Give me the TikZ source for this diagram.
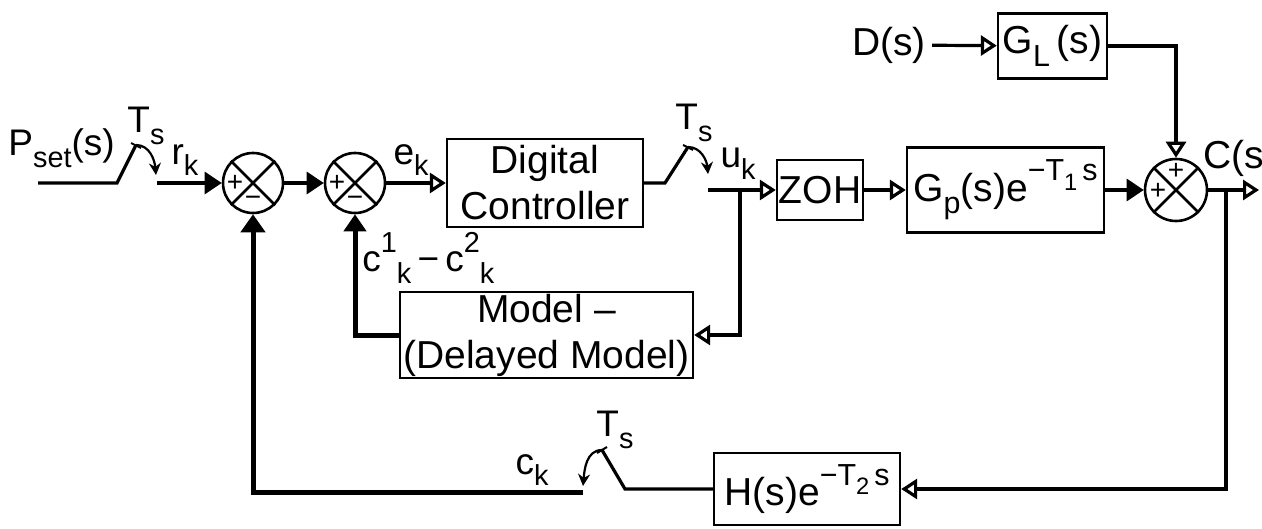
\documentclass[tikz,border=0pt]{standalone}
\usepackage{fontspec}
\setmainfont{Liberation Sans}
\usepackage{graphicx}
\usetikzlibrary{arrows.meta}
\newcommand\lo[1]{\raisebox{-0.6ex}{\scalebox{0.78}{#1}}}
\newcommand\hi[1]{\raisebox{1.0ex}{\scalebox{0.78}{#1}}}
\begin{document}
\begin{tikzpicture}[x=0.5pt,y=-0.5pt,
  box/.style={draw,line width=1.2pt,inner sep=0pt,align=center,font=\fontsize{19.5}{23}\selectfont},
  bigtxt/.style={inner sep=0pt,font=\fontsize{19.5}{23}\selectfont},
  sumnode/.style={draw,circle,line width=1.3pt,minimum size=30pt,inner sep=0pt},
  lbl/.style={inner sep=0pt,font=\fontsize{18.5}{21}\selectfont},
  sgn/.style={inner sep=0pt,font=\fontsize{14}{14}\selectfont},
  ln/.style={line width=1.6pt},
  thk/.style={line width=2.5pt},
  oarr/.style={-{Triangle[open,length=8pt,width=10pt]}},
  farr/.style={-{Triangle[length=8.5pt,width=11pt]}},
  swarr/.style={line width=1.1pt,-{Stealth[length=6pt,width=6pt]}},
  ]
\useasboundingbox (0,0) rectangle (1262,529);

% summing junctions
\node[sumnode] (sum1) at (253,183) {};
\node[sumnode] (sum2) at (355,183) {};
\node[sumnode,minimum size=31pt] (sum3) at (1176,190) {};
\foreach \s in {sum1,sum2,sum3}{
  \draw[line width=1.3pt] (\s.north west) -- (\s.south east) (\s.north east) -- (\s.south west);
}
\node[sgn] (p1) at (235,183) {+};
\node[sgn] (m1s) at (253,201) {−};
\node[sgn] (p2) at (337,183) {+};
\node[sgn] (m2s) at (355,201) {−};
\node[sgn] (p3a) at (1176,171) {+};
\node[sgn] (p3b) at (1158,191) {+};

% blocks
\node[box,minimum width=98pt,minimum height=44pt] (ctrl) at (545,183) {Digital\\Controller};
\node[box,minimum width=43pt,minimum height=30pt] (zoh) at (820,190) {ZOH};
\node[box,minimum width=98.5pt,minimum height=42.5pt] (gp) at (1005.5,190) {G\lo{p}(s)e\hi{−T\lo{1}\,s}};
\node[box,minimum width=54.5pt,minimum height=32.5pt] (gl) at (1052.5,46) {G\lo{L}\,(s)};
\node[box,minimum width=146.5pt,minimum height=43pt] (model) at (546.5,335) {Model –\\(Delayed Model)};
\node[box,minimum width=93pt,minimum height=36pt] (hb) at (807,489) {H(s)e\hi{−T\lo{2}\,s}};

% texts
\node[lbl,anchor=base west] (pset) at (8,156) {P\lo{set}(s)};
\node[bigtxt,inner sep=3pt] (d) at (889,45) {D(s)};
\node[bigtxt,anchor=west] (cs) at (1203,158) {C(s};
\node[lbl] (rk) at (185,160) {r\lo{k}};
\node[lbl] (ek) at (411,160) {e\lo{k}};
\node[lbl] (uk) at (738,164) {u\lo{k}};
\node[lbl] (ck) at (532,470) {c\lo{k}};
\node[lbl,anchor=west] (cdiff) at (362,258) {c\hi{1}\lo{k}\,−\,c\hi{2}\lo{k}};
\node[lbl] (ts1) at (146,126) {T\lo{s}};
\node[lbl] (ts2) at (694,123) {T\lo{s}};
\node[lbl] (ts3) at (615,430) {T\lo{s}};

% input sampler
\coordinate (p0) at (38,183);
\coordinate (s1a) at (117,183);
\coordinate (s1b) at (136,145);
\coordinate (s1c) at (156,175);
\coordinate (s1d) at (157,183);
\draw[ln] (p0) -- (s1a) -- (s1b);
\draw[line width=1pt] ([shift={(-5,-2)}]s1b) -- ([shift={(5,3)}]s1b);
\draw[swarr] (s1b) to[out=0,in=95] (s1c);
\draw[ln,farr] (s1d) -- (sum1.west);
\draw[ln,farr] (sum1.east) -- (sum2.west);
\draw[ln,oarr] (sum2.east) -- (ctrl.west);

% output sampler of controller
\coordinate (s2a) at (665,183);
\coordinate (s2b) at (688,147);
\coordinate (s2c) at (708,174);
\coordinate (s2d) at (708,190);
\draw[ln] (ctrl.east) -- (s2a) -- (s2b);
\draw[line width=1pt] ([shift={(-5,-2)}]s2b) -- ([shift={(5,3)}]s2b);
\draw[swarr] (s2b) to[out=0,in=95] (s2c);
\draw[ln,oarr] (s2d) -- (zoh.west);

% model loop
\coordinate (br1) at (740,190);
\coordinate (br1b) at (740,335);
\draw[ln,oarr] (br1) -- (br1b) -- (model.east);
\coordinate (mc) at (355,335);
\draw[thk,farr] (model.west) -- (mc) -- (sum2.south);

% plant
\draw[ln,oarr] (zoh.east) -- (gp.west);
\draw[ln,farr] (gp.east) -- (sum3.west);
\draw[ln,oarr] (d) -- (gl);
\coordinate (glc) at (1176,46);
\draw[ln,oarr] (gl.east) -- (glc) -- (sum3.north);
\coordinate (out) at (1259,190);
\draw[ln,oarr] (sum3.east) -- (out);

% feedback
\coordinate (br2) at (1226,190);
\coordinate (br2b) at (1226,489);
\draw[ln,oarr] (br2) -- (br2b) -- (hb.east);
\coordinate (s3a) at (625,489);
\coordinate (s3b) at (602,450);
\coordinate (s3c) at (583,486);
\coordinate (s3d) at (583,492);
\coordinate (fb) at (253,492);
\draw[ln] (hb.west) -- (s3a) -- (s3b);
\draw[line width=1pt] ([shift={(-5,3)}]s3b) -- ([shift={(5,-3)}]s3b);
\draw[swarr] (s3b) to[out=180,in=85] (s3c);
\draw[thk,-{Triangle[length=9pt,width=12pt]}] (s3d) -- (fb) -- (sum1.south);
\end{tikzpicture}
\end{document}
